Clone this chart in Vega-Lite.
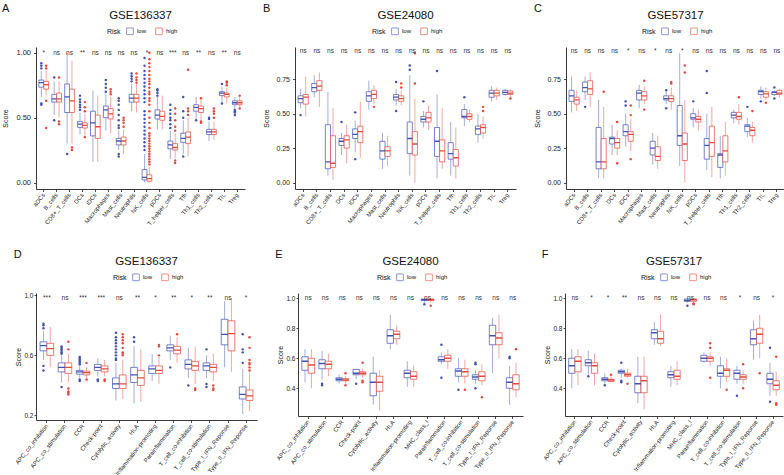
{
"$schema":"https://vega.github.io/schema/vega-lite/v6.json",
"padding":{"left":1,"top":2,"right":1,"bottom":0},
"datasets":{
"Abox":[
{"c":"aDCs","r":"low","lo":0.66,"q1":0.735,"md":0.77,"q3":0.79,"hi":0.86},
{"c":"aDCs","r":"high","lo":0.67,"q1":0.72,"md":0.755,"q3":0.78,"hi":0.86},
{"c":"B_cells","r":"low","lo":0.52,"q1":0.62,"md":0.645,"q3":0.68,"hi":0.78},
{"c":"B_cells","r":"high","lo":0.5,"q1":0.62,"md":0.645,"q3":0.69,"hi":0.78},
{"c":"CD8+_T_cells","r":"low","lo":0.3,"q1":0.54,"md":0.66,"q3":0.76,"hi":1.0},
{"c":"CD8+_T_cells","r":"high","lo":0.3,"q1":0.54,"md":0.63,"q3":0.72,"hi":0.94},
{"c":"DCs","r":"low","lo":0.37,"q1":0.425,"md":0.45,"q3":0.47,"hi":0.54},
{"c":"DCs","r":"high","lo":0.36,"q1":0.42,"md":0.44,"q3":0.46,"hi":0.53},
{"c":"iDCs","r":"low","lo":0.16,"q1":0.36,"md":0.46,"q3":0.55,"hi":0.71},
{"c":"iDCs","r":"high","lo":0.16,"q1":0.34,"md":0.43,"q3":0.52,"hi":0.67},
{"c":"Macrophages","r":"low","lo":0.4,"q1":0.5,"md":0.56,"q3":0.59,"hi":0.68},
{"c":"Macrophages","r":"high","lo":0.38,"q1":0.49,"md":0.53,"q3":0.57,"hi":0.66},
{"c":"Mast_cells","r":"low","lo":0.25,"q1":0.29,"md":0.32,"q3":0.34,"hi":0.4},
{"c":"Mast_cells","r":"high","lo":0.22,"q1":0.29,"md":0.32,"q3":0.35,"hi":0.41},
{"c":"Neutrophils","r":"low","lo":0.55,"q1":0.62,"md":0.65,"q3":0.68,"hi":0.76},
{"c":"Neutrophils","r":"high","lo":0.54,"q1":0.62,"md":0.65,"q3":0.68,"hi":0.76},
{"c":"NK_cells","r":"low","lo":0.0,"q1":0.02,"md":0.04,"q3":0.1,"hi":0.22},
{"c":"NK_cells","r":"high","lo":0.0,"q1":0.01,"md":0.03,"q3":0.06,"hi":0.12},
{"c":"pDCs","r":"low","lo":0.41,"q1":0.49,"md":0.52,"q3":0.56,"hi":0.66},
{"c":"pDCs","r":"high","lo":0.41,"q1":0.48,"md":0.51,"q3":0.55,"hi":0.67},
{"c":"T_helper_cells","r":"low","lo":0.18,"q1":0.26,"md":0.29,"q3":0.32,"hi":0.4},
{"c":"T_helper_cells","r":"high","lo":0.19,"q1":0.25,"md":0.27,"q3":0.3,"hi":0.38},
{"c":"Tfh","r":"low","lo":0.22,"q1":0.31,"md":0.34,"q3":0.38,"hi":0.48},
{"c":"Tfh","r":"high","lo":0.2,"q1":0.3,"md":0.35,"q3":0.39,"hi":0.5},
{"c":"Th1_cells","r":"low","lo":0.49,"q1":0.55,"md":0.58,"q3":0.6,"hi":0.66},
{"c":"Th1_cells","r":"high","lo":0.48,"q1":0.54,"md":0.57,"q3":0.59,"hi":0.64},
{"c":"Th2_cells","r":"low","lo":0.32,"q1":0.37,"md":0.39,"q3":0.41,"hi":0.47},
{"c":"Th2_cells","r":"high","lo":0.33,"q1":0.37,"md":0.39,"q3":0.41,"hi":0.47},
{"c":"TIL","r":"low","lo":0.62,"q1":0.67,"md":0.69,"q3":0.7,"hi":0.74},
{"c":"TIL","r":"high","lo":0.61,"q1":0.66,"md":0.68,"q3":0.69,"hi":0.73},
{"c":"Treg","r":"low","lo":0.57,"q1":0.6,"md":0.615,"q3":0.63,"hi":0.66},
{"c":"Treg","r":"high","lo":0.58,"q1":0.6,"md":0.615,"q3":0.63,"hi":0.66}],
"Aout":[
{"c":"aDCs","r":"low","v":0.88},{"c":"aDCs","r":"low","v":0.9},{"c":"aDCs","r":"low","v":0.92},{"c":"aDCs","r":"low","v":0.61},{"c":"aDCs","r":"low","v":0.6},
{"c":"aDCs","r":"high","v":0.88},{"c":"aDCs","r":"high","v":0.9},{"c":"aDCs","r":"high","v":0.63},{"c":"aDCs","r":"high","v":0.42},
{"c":"B_cells","r":"low","v":0.81},{"c":"B_cells","r":"low","v":0.48},
{"c":"B_cells","r":"high","v":0.81},{"c":"B_cells","r":"high","v":0.47},{"c":"B_cells","r":"high","v":0.45},
{"c":"CD8+_T_cells","r":"low","v":0.22},{"c":"CD8+_T_cells","r":"high","v":0.25},{"c":"CD8+_T_cells","r":"high","v":0.27},
{"c":"DCs","r":"low","v":0.56},{"c":"DCs","r":"low","v":0.58},{"c":"DCs","r":"low","v":0.6},{"c":"DCs","r":"low","v":0.62},{"c":"DCs","r":"low","v":0.64},{"c":"DCs","r":"low","v":0.67},
{"c":"DCs","r":"high","v":0.55},{"c":"DCs","r":"high","v":0.58},{"c":"DCs","r":"high","v":0.62},{"c":"DCs","r":"high","v":0.35},
{"c":"Macrophages","r":"low","v":0.7},{"c":"Macrophages","r":"low","v":0.73},{"c":"Macrophages","r":"low","v":0.76},{"c":"Macrophages","r":"low","v":0.79},
{"c":"Macrophages","r":"high","v":0.68},{"c":"Macrophages","r":"high","v":0.7},{"c":"Macrophages","r":"high","v":0.72},
{"c":"Mast_cells","r":"low","v":0.42},{"c":"Mast_cells","r":"low","v":0.44},{"c":"Mast_cells","r":"low","v":0.48},{"c":"Mast_cells","r":"low","v":0.52},{"c":"Mast_cells","r":"low","v":0.56},{"c":"Mast_cells","r":"low","v":0.6},{"c":"Mast_cells","r":"low","v":0.63},{"c":"Mast_cells","r":"low","v":0.65},{"c":"Mast_cells","r":"low","v":0.22},{"c":"Mast_cells","r":"low","v":0.2},
{"c":"Mast_cells","r":"high","v":0.43},{"c":"Mast_cells","r":"high","v":0.46},{"c":"Mast_cells","r":"high","v":0.48},{"c":"Mast_cells","r":"high","v":0.5},
{"c":"Neutrophils","r":"low","v":0.78},{"c":"Neutrophils","r":"low","v":0.8},{"c":"Neutrophils","r":"low","v":0.82},{"c":"Neutrophils","r":"low","v":0.84},
{"c":"Neutrophils","r":"high","v":0.77},{"c":"Neutrophils","r":"high","v":0.79},{"c":"Neutrophils","r":"high","v":0.81},{"c":"Neutrophils","r":"high","v":0.84},
{"c":"NK_cells","r":"low","v":0.25},{"c":"NK_cells","r":"low","v":0.28},{"c":"NK_cells","r":"low","v":0.31},{"c":"NK_cells","r":"low","v":0.34},{"c":"NK_cells","r":"low","v":0.37},{"c":"NK_cells","r":"low","v":0.4},{"c":"NK_cells","r":"low","v":0.43},{"c":"NK_cells","r":"low","v":0.46},{"c":"NK_cells","r":"low","v":0.49},{"c":"NK_cells","r":"low","v":0.52},{"c":"NK_cells","r":"low","v":0.55},{"c":"NK_cells","r":"low","v":0.62},{"c":"NK_cells","r":"low","v":0.65},{"c":"NK_cells","r":"low","v":0.68},{"c":"NK_cells","r":"low","v":0.71},{"c":"NK_cells","r":"low","v":0.74},{"c":"NK_cells","r":"low","v":0.77},{"c":"NK_cells","r":"low","v":0.8},{"c":"NK_cells","r":"low","v":0.83},{"c":"NK_cells","r":"low","v":0.86},{"c":"NK_cells","r":"low","v":0.9},{"c":"NK_cells","r":"low","v":0.96},
{"c":"NK_cells","r":"high","v":0.14},{"c":"NK_cells","r":"high","v":0.16},{"c":"NK_cells","r":"high","v":0.18},{"c":"NK_cells","r":"high","v":0.2},{"c":"NK_cells","r":"high","v":0.22},{"c":"NK_cells","r":"high","v":0.24},{"c":"NK_cells","r":"high","v":0.26},{"c":"NK_cells","r":"high","v":0.28},{"c":"NK_cells","r":"high","v":0.3},{"c":"NK_cells","r":"high","v":0.32},{"c":"NK_cells","r":"high","v":0.34},{"c":"NK_cells","r":"high","v":0.36},{"c":"NK_cells","r":"high","v":0.38},{"c":"NK_cells","r":"high","v":0.42},{"c":"NK_cells","r":"high","v":0.46},{"c":"NK_cells","r":"high","v":0.5},{"c":"NK_cells","r":"high","v":0.55},{"c":"NK_cells","r":"high","v":0.6},{"c":"NK_cells","r":"high","v":0.63},{"c":"NK_cells","r":"high","v":0.65},{"c":"NK_cells","r":"high","v":0.68},{"c":"NK_cells","r":"high","v":0.7},{"c":"NK_cells","r":"high","v":0.73},{"c":"NK_cells","r":"high","v":0.76},{"c":"NK_cells","r":"high","v":0.78},{"c":"NK_cells","r":"high","v":0.8},{"c":"NK_cells","r":"high","v":0.83},{"c":"NK_cells","r":"high","v":0.86},{"c":"NK_cells","r":"high","v":0.89},{"c":"NK_cells","r":"high","v":0.92},{"c":"NK_cells","r":"high","v":0.95},{"c":"NK_cells","r":"high","v":1.0},
{"c":"pDCs","r":"low","v":0.67},{"c":"pDCs","r":"low","v":0.69},{"c":"pDCs","r":"low","v":0.71},{"c":"pDCs","r":"low","v":0.72},
{"c":"T_helper_cells","r":"low","v":0.42},{"c":"T_helper_cells","r":"low","v":0.45},{"c":"T_helper_cells","r":"low","v":0.48},{"c":"T_helper_cells","r":"low","v":0.5},{"c":"T_helper_cells","r":"low","v":0.53},{"c":"T_helper_cells","r":"low","v":0.56},{"c":"T_helper_cells","r":"low","v":0.6},
{"c":"T_helper_cells","r":"high","v":0.4},{"c":"T_helper_cells","r":"high","v":0.43},{"c":"T_helper_cells","r":"high","v":0.48},{"c":"T_helper_cells","r":"high","v":0.53},{"c":"T_helper_cells","r":"high","v":0.57},{"c":"T_helper_cells","r":"high","v":0.17},{"c":"T_helper_cells","r":"high","v":0.15},
{"c":"Tfh","r":"low","v":0.5},{"c":"Tfh","r":"low","v":0.55},{"c":"Tfh","r":"low","v":0.66},{"c":"Tfh","r":"low","v":0.2},
{"c":"Tfh","r":"high","v":0.52},{"c":"Tfh","r":"high","v":0.55},{"c":"Tfh","r":"high","v":0.57},{"c":"Tfh","r":"high","v":0.87},
{"c":"Th1_cells","r":"low","v":0.48},{"c":"Th1_cells","r":"high","v":0.65},{"c":"Th1_cells","r":"high","v":0.47},{"c":"Th1_cells","r":"high","v":0.46},
{"c":"Th2_cells","r":"low","v":0.49},{"c":"Th2_cells","r":"low","v":0.5},
{"c":"Th2_cells","r":"high","v":0.5},{"c":"Th2_cells","r":"high","v":0.53},{"c":"Th2_cells","r":"high","v":0.55},{"c":"Th2_cells","r":"high","v":0.57},
{"c":"TIL","r":"low","v":0.76},{"c":"TIL","r":"low","v":0.61},
{"c":"TIL","r":"high","v":0.75},{"c":"TIL","r":"high","v":0.77},{"c":"TIL","r":"high","v":0.78},
{"c":"Treg","r":"low","v":0.52},{"c":"Treg","r":"low","v":0.54},{"c":"Treg","r":"low","v":0.55},{"c":"Treg","r":"low","v":0.56},
{"c":"Treg","r":"high","v":0.57},{"c":"Treg","r":"high","v":0.67}],
"Asig":[{"c":"aDCs","s":"*"},{"c":"B_cells","s":"ns"},{"c":"CD8+_T_cells","s":"ns"},{"c":"DCs","s":"**"},{"c":"iDCs","s":"ns"},{"c":"Macrophages","s":"ns"},{"c":"Mast_cells","s":"ns"},{"c":"Neutrophils","s":"ns"},{"c":"NK_cells","s":"*"},{"c":"pDCs","s":"ns"},{"c":"T_helper_cells","s":"***"},{"c":"Tfh","s":"ns"},{"c":"Th1_cells","s":"**"},{"c":"Th2_cells","s":"ns"},{"c":"TIL","s":"**"},{"c":"Treg","s":"ns"}],
"Bbox":[
{"c":"aDCs","r":"low","lo":0.54,"q1":0.58,"md":0.61,"q3":0.63,"hi":0.68},
{"c":"aDCs","r":"high","lo":0.48,"q1":0.57,"md":0.62,"q3":0.64,"hi":0.77},
{"c":"B_cells","r":"low","lo":0.62,"q1":0.66,"md":0.69,"q3":0.72,"hi":0.78},
{"c":"B_cells","r":"high","lo":0.55,"q1":0.67,"md":0.7,"q3":0.74,"hi":0.8},
{"c":"CD8+_T_cells","r":"low","lo":0.05,"q1":0.1,"md":0.15,"q3":0.42,"hi":0.66},
{"c":"CD8+_T_cells","r":"high","lo":0.02,"q1":0.11,"md":0.14,"q3":0.34,"hi":0.54},
{"c":"DCs","r":"low","lo":0.2,"q1":0.27,"md":0.3,"q3":0.32,"hi":0.36},
{"c":"DCs","r":"high","lo":0.14,"q1":0.25,"md":0.31,"q3":0.34,"hi":0.42},
{"c":"iDCs","r":"low","lo":0.22,"q1":0.32,"md":0.35,"q3":0.39,"hi":0.45},
{"c":"iDCs","r":"high","lo":0.18,"q1":0.29,"md":0.37,"q3":0.41,"hi":0.59},
{"c":"Macrophages","r":"low","lo":0.53,"q1":0.59,"md":0.63,"q3":0.66,"hi":0.74},
{"c":"Macrophages","r":"high","lo":0.57,"q1":0.61,"md":0.64,"q3":0.67,"hi":0.71},
{"c":"Mast_cells","r":"low","lo":0.1,"q1":0.17,"md":0.23,"q3":0.3,"hi":0.36},
{"c":"Mast_cells","r":"high","lo":0.12,"q1":0.19,"md":0.23,"q3":0.26,"hi":0.34},
{"c":"Neutrophils","r":"low","lo":0.56,"q1":0.6,"md":0.62,"q3":0.64,"hi":0.68},
{"c":"Neutrophils","r":"high","lo":0.56,"q1":0.59,"md":0.61,"q3":0.63,"hi":0.67},
{"c":"NK_cells","r":"low","lo":0.05,"q1":0.21,"md":0.32,"q3":0.44,"hi":0.78},
{"c":"NK_cells","r":"high","lo":0.0,"q1":0.2,"md":0.28,"q3":0.37,"hi":0.61},
{"c":"pDCs","r":"low","lo":0.4,"q1":0.44,"md":0.46,"q3":0.48,"hi":0.52},
{"c":"pDCs","r":"high","lo":0.38,"q1":0.44,"md":0.47,"q3":0.51,"hi":0.56},
{"c":"T_helper_cells","r":"low","lo":0.03,"q1":0.19,"md":0.3,"q3":0.4,"hi":0.64},
{"c":"T_helper_cells","r":"high","lo":0.1,"q1":0.15,"md":0.23,"q3":0.31,"hi":0.54},
{"c":"Tfh","r":"low","lo":0.05,"q1":0.17,"md":0.21,"q3":0.29,"hi":0.44},
{"c":"Tfh","r":"high","lo":0.03,"q1":0.12,"md":0.18,"q3":0.24,"hi":0.4},
{"c":"Th1_cells","r":"low","lo":0.41,"q1":0.47,"md":0.48,"q3":0.53,"hi":0.57},
{"c":"Th1_cells","r":"high","lo":0.44,"q1":0.46,"md":0.48,"q3":0.5,"hi":0.53},
{"c":"Th2_cells","r":"low","lo":0.29,"q1":0.35,"md":0.39,"q3":0.41,"hi":0.5},
{"c":"Th2_cells","r":"high","lo":0.32,"q1":0.36,"md":0.4,"q3":0.42,"hi":0.48},
{"c":"TIL","r":"low","lo":0.59,"q1":0.62,"md":0.65,"q3":0.67,"hi":0.7},
{"c":"TIL","r":"high","lo":0.6,"q1":0.63,"md":0.65,"q3":0.67,"hi":0.69},
{"c":"Treg","r":"low","lo":0.63,"q1":0.64,"md":0.655,"q3":0.67,"hi":0.68},
{"c":"Treg","r":"high","lo":0.62,"q1":0.64,"md":0.65,"q3":0.665,"hi":0.68}],
"Bout":[
{"c":"aDCs","r":"low","v":0.49},{"c":"DCs","r":"low","v":0.44},{"c":"iDCs","r":"low","v":0.51},{"c":"iDCs","r":"low","v":0.17},{"c":"Macrophages","r":"high","v":0.55},
{"c":"Neutrophils","r":"low","v":0.73},{"c":"Neutrophils","r":"low","v":0.52},{"c":"Neutrophils","r":"high","v":0.69},{"c":"Neutrophils","r":"high","v":0.72},
{"c":"NK_cells","r":"low","v":0.82},{"c":"NK_cells","r":"low","v":0.85},{"c":"NK_cells","r":"high","v":0.72},{"c":"NK_cells","r":"high","v":0.94},
{"c":"pDCs","r":"low","v":0.59},{"c":"T_helper_cells","r":"low","v":0.81},{"c":"Th1_cells","r":"low","v":0.62},{"c":"Th2_cells","r":"high","v":0.52},{"c":"Th2_cells","r":"high","v":0.55},{"c":"Treg","r":"high","v":0.61}],
"Bsig":[{"c":"aDCs","s":"ns"},{"c":"B_cells","s":"ns"},{"c":"CD8+_T_cells","s":"ns"},{"c":"DCs","s":"ns"},{"c":"iDCs","s":"ns"},{"c":"Macrophages","s":"ns"},{"c":"Mast_cells","s":"ns"},{"c":"Neutrophils","s":"ns"},{"c":"NK_cells","s":"ns"},{"c":"pDCs","s":"ns"},{"c":"T_helper_cells","s":"ns"},{"c":"Tfh","s":"ns"},{"c":"Th1_cells","s":"ns"},{"c":"Th2_cells","s":"ns"},{"c":"TIL","s":"ns"},{"c":"Treg","s":"ns"}],
"Cbox":[
{"c":"aDCs","r":"low","lo":0.51,"q1":0.59,"md":0.63,"q3":0.67,"hi":0.77},
{"c":"aDCs","r":"high","lo":0.52,"q1":0.57,"md":0.6,"q3":0.62,"hi":0.67},
{"c":"B_cells","r":"low","lo":0.6,"q1":0.66,"md":0.69,"q3":0.73,"hi":0.77},
{"c":"B_cells","r":"high","lo":0.55,"q1":0.64,"md":0.68,"q3":0.74,"hi":0.8},
{"c":"CD8+_T_cells","r":"low","lo":0.03,"q1":0.1,"md":0.15,"q3":0.4,"hi":0.6},
{"c":"CD8+_T_cells","r":"high","lo":0.03,"q1":0.1,"md":0.15,"q3":0.32,"hi":0.55},
{"c":"DCs","r":"low","lo":0.2,"q1":0.28,"md":0.32,"q3":0.33,"hi":0.42},
{"c":"DCs","r":"high","lo":0.2,"q1":0.25,"md":0.29,"q3":0.32,"hi":0.38},
{"c":"iDCs","r":"low","lo":0.26,"q1":0.34,"md":0.37,"q3":0.42,"hi":0.5},
{"c":"iDCs","r":"high","lo":0.23,"q1":0.3,"md":0.35,"q3":0.37,"hi":0.46},
{"c":"Macrophages","r":"low","lo":0.54,"q1":0.6,"md":0.65,"q3":0.67,"hi":0.71},
{"c":"Macrophages","r":"high","lo":0.57,"q1":0.6,"md":0.63,"q3":0.66,"hi":0.7},
{"c":"Mast_cells","r":"low","lo":0.13,"q1":0.2,"md":0.25,"q3":0.3,"hi":0.36},
{"c":"Mast_cells","r":"high","lo":0.1,"q1":0.16,"md":0.19,"q3":0.26,"hi":0.34},
{"c":"Neutrophils","r":"low","lo":0.57,"q1":0.6,"md":0.61,"q3":0.63,"hi":0.66},
{"c":"Neutrophils","r":"high","lo":0.53,"q1":0.59,"md":0.61,"q3":0.63,"hi":0.69},
{"c":"NK_cells","r":"low","lo":0.12,"q1":0.27,"md":0.34,"q3":0.56,"hi":0.94},
{"c":"NK_cells","r":"high","lo":0.0,"q1":0.16,"md":0.28,"q3":0.36,"hi":0.6},
{"c":"pDCs","r":"low","lo":0.4,"q1":0.46,"md":0.47,"q3":0.5,"hi":0.54},
{"c":"pDCs","r":"high","lo":0.38,"q1":0.44,"md":0.46,"q3":0.48,"hi":0.53},
{"c":"T_helper_cells","r":"low","lo":0.09,"q1":0.17,"md":0.27,"q3":0.32,"hi":0.5},
{"c":"T_helper_cells","r":"high","lo":0.04,"q1":0.19,"md":0.29,"q3":0.41,"hi":0.55},
{"c":"Tfh","r":"low","lo":0.03,"q1":0.11,"md":0.2,"q3":0.21,"hi":0.34},
{"c":"Tfh","r":"high","lo":0.05,"q1":0.15,"md":0.23,"q3":0.34,"hi":0.44},
{"c":"Th1_cells","r":"low","lo":0.43,"q1":0.47,"md":0.49,"q3":0.51,"hi":0.53},
{"c":"Th1_cells","r":"high","lo":0.42,"q1":0.46,"md":0.48,"q3":0.51,"hi":0.57},
{"c":"Th2_cells","r":"low","lo":0.33,"q1":0.37,"md":0.41,"q3":0.42,"hi":0.47},
{"c":"Th2_cells","r":"high","lo":0.29,"q1":0.34,"md":0.38,"q3":0.4,"hi":0.44},
{"c":"TIL","r":"low","lo":0.61,"q1":0.64,"md":0.66,"q3":0.67,"hi":0.7},
{"c":"TIL","r":"high","lo":0.6,"q1":0.62,"md":0.645,"q3":0.66,"hi":0.69},
{"c":"Treg","r":"low","lo":0.63,"q1":0.64,"md":0.655,"q3":0.66,"hi":0.67},
{"c":"Treg","r":"high","lo":0.62,"q1":0.64,"md":0.65,"q3":0.67,"hi":0.68}],
"Cout":[
{"c":"B_cells","r":"low","v":0.55},{"c":"CD8+_T_cells","r":"high","v":0.66},{"c":"DCs","r":"high","v":0.44},{"c":"DCs","r":"high","v":0.14},
{"c":"iDCs","r":"low","v":0.56},{"c":"iDCs","r":"low","v":0.59},{"c":"iDCs","r":"high","v":0.49},{"c":"iDCs","r":"high","v":0.56},{"c":"iDCs","r":"high","v":0.17},
{"c":"Macrophages","r":"high","v":0.74},{"c":"Macrophages","r":"high","v":0.53},{"c":"Neutrophils","r":"low","v":0.67},{"c":"Neutrophils","r":"low","v":0.54},{"c":"Neutrophils","r":"high","v":0.72},{"c":"Neutrophils","r":"high","v":0.73},
{"c":"NK_cells","r":"high","v":0.8},{"c":"NK_cells","r":"high","v":0.85},{"c":"pDCs","r":"low","v":0.59},{"c":"T_helper_cells","r":"low","v":0.65},{"c":"T_helper_cells","r":"low","v":0.81},
{"c":"Th1_cells","r":"high","v":0.62},{"c":"Th2_cells","r":"low","v":0.55},{"c":"Th2_cells","r":"high","v":0.52},{"c":"TIL","r":"low","v":0.59},{"c":"TIL","r":"high","v":0.58},{"c":"Treg","r":"low","v":0.69},{"c":"Treg","r":"low","v":0.61}],
"Csig":[{"c":"aDCs","s":"ns"},{"c":"B_cells","s":"ns"},{"c":"CD8+_T_cells","s":"ns"},{"c":"DCs","s":"ns"},{"c":"iDCs","s":"*"},{"c":"Macrophages","s":"ns"},{"c":"Mast_cells","s":"*"},{"c":"Neutrophils","s":"ns"},{"c":"NK_cells","s":"*"},{"c":"pDCs","s":"ns"},{"c":"T_helper_cells","s":"ns"},{"c":"Tfh","s":"ns"},{"c":"Th1_cells","s":"ns"},{"c":"Th2_cells","s":"ns"},{"c":"TIL","s":"ns"},{"c":"Treg","s":"ns"}],
"Dbox":[
{"c":"APC_co_inhibition","r":"low","lo":0.57,"q1":0.63,"md":0.665,"q3":0.69,"hi":0.76},
{"c":"APC_co_inhibition","r":"high","lo":0.52,"q1":0.6,"md":0.645,"q3":0.68,"hi":0.79},
{"c":"APC_co_stimulation","r":"low","lo":0.42,"q1":0.49,"md":0.52,"q3":0.55,"hi":0.6},
{"c":"APC_co_stimulation","r":"high","lo":0.42,"q1":0.48,"md":0.52,"q3":0.55,"hi":0.61},
{"c":"CCR","r":"low","lo":0.45,"q1":0.475,"md":0.49,"q3":0.5,"hi":0.53},
{"c":"CCR","r":"high","lo":0.45,"q1":0.47,"md":0.485,"q3":0.495,"hi":0.52},
{"c":"Check-point","r":"low","lo":0.46,"q1":0.5,"md":0.52,"q3":0.54,"hi":0.58},
{"c":"Check-point","r":"high","lo":0.46,"q1":0.49,"md":0.51,"q3":0.53,"hi":0.57},
{"c":"Cytolytic_activity","r":"low","lo":0.3,"q1":0.38,"md":0.41,"q3":0.45,"hi":0.55},
{"c":"Cytolytic_activity","r":"high","lo":0.31,"q1":0.38,"md":0.41,"q3":0.47,"hi":0.57},
{"c":"HLA","r":"low","lo":0.28,"q1":0.42,"md":0.47,"q3":0.52,"hi":0.66},
{"c":"HLA","r":"high","lo":0.29,"q1":0.4,"md":0.45,"q3":0.5,"hi":0.64},
{"c":"Inflammation-promoting","r":"low","lo":0.43,"q1":0.48,"md":0.51,"q3":0.53,"hi":0.61},
{"c":"Inflammation-promoting","r":"high","lo":0.41,"q1":0.48,"md":0.5,"q3":0.53,"hi":0.59},
{"c":"Parainflammation","r":"low","lo":0.57,"q1":0.63,"md":0.65,"q3":0.67,"hi":0.73},
{"c":"Parainflammation","r":"high","lo":0.55,"q1":0.61,"md":0.635,"q3":0.66,"hi":0.72},
{"c":"T_cell_co-inhibition","r":"low","lo":0.45,"q1":0.51,"md":0.54,"q3":0.57,"hi":0.65},
{"c":"T_cell_co-inhibition","r":"high","lo":0.41,"q1":0.5,"md":0.53,"q3":0.56,"hi":0.66},
{"c":"T_cell_co-stimulation","r":"low","lo":0.45,"q1":0.5,"md":0.53,"q3":0.55,"hi":0.6},
{"c":"T_cell_co-stimulation","r":"high","lo":0.43,"q1":0.49,"md":0.52,"q3":0.54,"hi":0.61},
{"c":"Type_I_IFN_Reponse","r":"low","lo":0.52,"q1":0.67,"md":0.74,"q3":0.84,"hi":0.96},
{"c":"Type_I_IFN_Reponse","r":"high","lo":0.49,"q1":0.63,"md":0.745,"q3":0.83,"hi":0.98},
{"c":"Type_II_IFN_Reponse","r":"low","lo":0.21,"q1":0.31,"md":0.34,"q3":0.39,"hi":0.51},
{"c":"Type_II_IFN_Reponse","r":"high","lo":0.23,"q1":0.3,"md":0.33,"q3":0.37,"hi":0.48}],
"Dout":[
{"c":"APC_co_inhibition","r":"low","v":0.78},{"c":"APC_co_inhibition","r":"low","v":0.8},{"c":"APC_co_inhibition","r":"low","v":0.81},{"c":"APC_co_inhibition","r":"low","v":0.53},{"c":"APC_co_inhibition","r":"low","v":0.5},
{"c":"APC_co_stimulation","r":"low","v":0.61},{"c":"APC_co_stimulation","r":"low","v":0.62},{"c":"APC_co_stimulation","r":"low","v":0.63},{"c":"APC_co_stimulation","r":"low","v":0.64},{"c":"APC_co_stimulation","r":"low","v":0.65},{"c":"APC_co_stimulation","r":"low","v":0.66},{"c":"APC_co_stimulation","r":"low","v":0.39},
{"c":"APC_co_stimulation","r":"high","v":0.64},{"c":"APC_co_stimulation","r":"high","v":0.69},{"c":"APC_co_stimulation","r":"high","v":0.38},{"c":"APC_co_stimulation","r":"high","v":0.36},{"c":"APC_co_stimulation","r":"high","v":0.35},{"c":"APC_co_stimulation","r":"high","v":0.34},
{"c":"CCR","r":"low","v":0.54},{"c":"CCR","r":"low","v":0.55},{"c":"CCR","r":"low","v":0.56},{"c":"CCR","r":"low","v":0.57},{"c":"CCR","r":"low","v":0.58},{"c":"CCR","r":"low","v":0.59},{"c":"CCR","r":"low","v":0.44},{"c":"CCR","r":"low","v":0.43},
{"c":"CCR","r":"high","v":0.55},{"c":"CCR","r":"high","v":0.44},
{"c":"Check-point","r":"low","v":0.44},{"c":"Check-point","r":"low","v":0.43},{"c":"Check-point","r":"high","v":0.44},{"c":"Check-point","r":"high","v":0.43},
{"c":"Cytolytic_activity","r":"low","v":0.57},{"c":"Cytolytic_activity","r":"low","v":0.58},{"c":"Cytolytic_activity","r":"low","v":0.6},{"c":"Cytolytic_activity","r":"low","v":0.62},{"c":"Cytolytic_activity","r":"low","v":0.64},{"c":"Cytolytic_activity","r":"low","v":0.66},{"c":"Cytolytic_activity","r":"low","v":0.68},{"c":"Cytolytic_activity","r":"low","v":0.7},{"c":"Cytolytic_activity","r":"low","v":0.72},{"c":"Cytolytic_activity","r":"low","v":0.75},
{"c":"Cytolytic_activity","r":"high","v":0.6},{"c":"Cytolytic_activity","r":"high","v":0.61},{"c":"Cytolytic_activity","r":"high","v":0.62},{"c":"Cytolytic_activity","r":"high","v":0.65},{"c":"Cytolytic_activity","r":"high","v":0.68},{"c":"Cytolytic_activity","r":"high","v":0.7},{"c":"Cytolytic_activity","r":"high","v":0.72},{"c":"Cytolytic_activity","r":"high","v":0.74},
{"c":"HLA","r":"low","v":0.69},{"c":"HLA","r":"low","v":0.72},
{"c":"Inflammation-promoting","r":"high","v":0.6},{"c":"Inflammation-promoting","r":"high","v":0.66},{"c":"Inflammation-promoting","r":"high","v":0.67},
{"c":"Parainflammation","r":"low","v":0.52},{"c":"Parainflammation","r":"high","v":0.74},
{"c":"T_cell_co-inhibition","r":"low","v":0.4},{"c":"T_cell_co-inhibition","r":"high","v":0.38},{"c":"T_cell_co-inhibition","r":"high","v":0.37},
{"c":"T_cell_co-stimulation","r":"low","v":0.64},{"c":"T_cell_co-stimulation","r":"low","v":0.41},{"c":"T_cell_co-stimulation","r":"low","v":0.39},{"c":"T_cell_co-stimulation","r":"high","v":0.4},{"c":"T_cell_co-stimulation","r":"high","v":0.38},{"c":"T_cell_co-stimulation","r":"high","v":0.37},
{"c":"Type_II_IFN_Reponse","r":"low","v":0.55},{"c":"Type_II_IFN_Reponse","r":"low","v":0.62},{"c":"Type_II_IFN_Reponse","r":"low","v":0.64},{"c":"Type_II_IFN_Reponse","r":"low","v":0.74},
{"c":"Type_II_IFN_Reponse","r":"high","v":0.5},{"c":"Type_II_IFN_Reponse","r":"high","v":0.52},{"c":"Type_II_IFN_Reponse","r":"high","v":0.54},{"c":"Type_II_IFN_Reponse","r":"high","v":0.55},{"c":"Type_II_IFN_Reponse","r":"high","v":0.57},{"c":"Type_II_IFN_Reponse","r":"high","v":0.65},{"c":"Type_II_IFN_Reponse","r":"high","v":0.72}],
"Dsig":[{"c":"APC_co_inhibition","s":"***"},{"c":"APC_co_stimulation","s":"ns"},{"c":"CCR","s":"***"},{"c":"Check-point","s":"***"},{"c":"Cytolytic_activity","s":"ns"},{"c":"HLA","s":"**"},{"c":"Inflammation-promoting","s":"*"},{"c":"Parainflammation","s":"**"},{"c":"T_cell_co-inhibition","s":"*"},{"c":"T_cell_co-stimulation","s":"**"},{"c":"Type_I_IFN_Reponse","s":"ns"},{"c":"Type_II_IFN_Reponse","s":"*"}],
"Ebox":[
{"c":"APC_co_inhibition","r":"low","lo":0.44,"q1":0.52,"md":0.58,"q3":0.61,"hi":0.66},
{"c":"APC_co_inhibition","r":"high","lo":0.4,"q1":0.5,"md":0.555,"q3":0.6,"hi":0.66},
{"c":"APC_co_stimulation","r":"low","lo":0.46,"q1":0.53,"md":0.565,"q3":0.59,"hi":0.65},
{"c":"APC_co_stimulation","r":"high","lo":0.48,"q1":0.53,"md":0.56,"q3":0.58,"hi":0.63},
{"c":"CCR","r":"low","lo":0.43,"q1":0.45,"md":0.46,"q3":0.47,"hi":0.49},
{"c":"CCR","r":"high","lo":0.43,"q1":0.45,"md":0.455,"q3":0.465,"hi":0.48},
{"c":"Check-point","r":"low","lo":0.46,"q1":0.49,"md":0.5,"q3":0.525,"hi":0.53},
{"c":"Check-point","r":"high","lo":0.47,"q1":0.49,"md":0.5,"q3":0.51,"hi":0.53},
{"c":"Cytolytic_activity","r":"low","lo":0.29,"q1":0.35,"md":0.44,"q3":0.5,"hi":0.61},
{"c":"Cytolytic_activity","r":"high","lo":0.25,"q1":0.38,"md":0.44,"q3":0.48,"hi":0.52},
{"c":"HLA","r":"low","lo":0.66,"q1":0.7,"md":0.75,"q3":0.79,"hi":0.89},
{"c":"HLA","r":"high","lo":0.69,"q1":0.73,"md":0.76,"q3":0.78,"hi":0.82},
{"c":"Inflammation-promoting","r":"low","lo":0.41,"q1":0.47,"md":0.5,"q3":0.52,"hi":0.58},
{"c":"Inflammation-promoting","r":"high","lo":0.41,"q1":0.46,"md":0.48,"q3":0.51,"hi":0.55},
{"c":"MHC_class_I","r":"low","lo":0.97,"q1":0.985,"md":0.99,"q3":0.995,"hi":1.0},
{"c":"MHC_class_I","r":"high","lo":0.97,"q1":0.985,"md":0.99,"q3":0.995,"hi":1.0},
{"c":"Parainflammation","r":"low","lo":0.56,"q1":0.58,"md":0.59,"q3":0.61,"hi":0.64},
{"c":"Parainflammation","r":"high","lo":0.53,"q1":0.58,"md":0.6,"q3":0.62,"hi":0.66},
{"c":"T_cell_co-inhibition","r":"low","lo":0.44,"q1":0.48,"md":0.515,"q3":0.53,"hi":0.6},
{"c":"T_cell_co-inhibition","r":"high","lo":0.43,"q1":0.48,"md":0.51,"q3":0.53,"hi":0.59},
{"c":"T_cell_co-stimulation","r":"low","lo":0.43,"q1":0.46,"md":0.475,"q3":0.49,"hi":0.52},
{"c":"T_cell_co-stimulation","r":"high","lo":0.42,"q1":0.45,"md":0.48,"q3":0.51,"hi":0.56},
{"c":"Type_I_IFN_Reponse","r":"low","lo":0.5,"q1":0.69,"md":0.75,"q3":0.82,"hi":0.87},
{"c":"Type_I_IFN_Reponse","r":"high","lo":0.6,"q1":0.69,"md":0.735,"q3":0.77,"hi":0.89},
{"c":"Type_II_IFN_Reponse","r":"low","lo":0.29,"q1":0.4,"md":0.44,"q3":0.47,"hi":0.55},
{"c":"Type_II_IFN_Reponse","r":"high","lo":0.34,"q1":0.39,"md":0.43,"q3":0.49,"hi":0.57}],
"Eout":[
{"c":"APC_co_stimulation","r":"low","v":0.43},{"c":"APC_co_stimulation","r":"low","v":0.42},{"c":"CCR","r":"high","v":0.5},{"c":"CCR","r":"high","v":0.42},
{"c":"Check-point","r":"low","v":0.43},{"c":"Check-point","r":"high","v":0.57},{"c":"Check-point","r":"high","v":0.45},{"c":"Check-point","r":"high","v":0.44},
{"c":"MHC_class_I","r":"low","v":0.96},{"c":"MHC_class_I","r":"high","v":0.95},{"c":"Parainflammation","r":"low","v":0.69},{"c":"Parainflammation","r":"low","v":0.47},
{"c":"T_cell_co-inhibition","r":"low","v":0.39},{"c":"T_cell_co-inhibition","r":"high","v":0.39},{"c":"T_cell_co-stimulation","r":"low","v":0.57},{"c":"T_cell_co-stimulation","r":"low","v":0.56},{"c":"T_cell_co-stimulation","r":"low","v":0.4},{"c":"T_cell_co-stimulation","r":"high","v":0.34},
{"c":"Type_II_IFN_Reponse","r":"low","v":0.6},{"c":"Type_II_IFN_Reponse","r":"low","v":0.61},{"c":"Type_II_IFN_Reponse","r":"high","v":0.66}],
"Esig":[{"c":"APC_co_inhibition","s":"ns"},{"c":"APC_co_stimulation","s":"ns"},{"c":"CCR","s":"ns"},{"c":"Check-point","s":"ns"},{"c":"Cytolytic_activity","s":"ns"},{"c":"HLA","s":"ns"},{"c":"Inflammation-promoting","s":"ns"},{"c":"MHC_class_I","s":"ns"},{"c":"Parainflammation","s":"ns"},{"c":"T_cell_co-inhibition","s":"ns"},{"c":"T_cell_co-stimulation","s":"ns"},{"c":"Type_I_IFN_Reponse","s":"ns"},{"c":"Type_II_IFN_Reponse","s":"ns"}],
"Fbox":[
{"c":"APC_co_inhibition","r":"low","lo":0.4,"q1":0.5,"md":0.55,"q3":0.6,"hi":0.66},
{"c":"APC_co_inhibition","r":"high","lo":0.42,"q1":0.51,"md":0.58,"q3":0.61,"hi":0.66},
{"c":"APC_co_stimulation","r":"low","lo":0.49,"q1":0.55,"md":0.57,"q3":0.59,"hi":0.65},
{"c":"APC_co_stimulation","r":"high","lo":0.42,"q1":0.5,"md":0.55,"q3":0.57,"hi":0.63},
{"c":"CCR","r":"low","lo":0.43,"q1":0.45,"md":0.46,"q3":0.47,"hi":0.5},
{"c":"CCR","r":"high","lo":0.44,"q1":0.445,"md":0.455,"q3":0.46,"hi":0.48},
{"c":"Check-point","r":"low","lo":0.47,"q1":0.5,"md":0.51,"q3":0.52,"hi":0.53},
{"c":"Check-point","r":"high","lo":0.47,"q1":0.48,"md":0.49,"q3":0.5,"hi":0.53},
{"c":"Cytolytic_activity","r":"low","lo":0.3,"q1":0.37,"md":0.43,"q3":0.48,"hi":0.61},
{"c":"Cytolytic_activity","r":"high","lo":0.26,"q1":0.37,"md":0.45,"q3":0.48,"hi":0.61},
{"c":"HLA","r":"low","lo":0.69,"q1":0.73,"md":0.77,"q3":0.79,"hi":0.84},
{"c":"HLA","r":"high","lo":0.68,"q1":0.7,"md":0.73,"q3":0.78,"hi":0.89},
{"c":"Inflammation-promoting","r":"low","lo":0.41,"q1":0.47,"md":0.49,"q3":0.51,"hi":0.55},
{"c":"Inflammation-promoting","r":"high","lo":0.42,"q1":0.46,"md":0.48,"q3":0.52,"hi":0.58},
{"c":"MHC_class_I","r":"low","lo":0.97,"q1":0.98,"md":0.985,"q3":0.995,"hi":1.0},
{"c":"MHC_class_I","r":"high","lo":0.97,"q1":0.98,"md":0.99,"q3":0.995,"hi":1.0},
{"c":"Parainflammation","r":"low","lo":0.57,"q1":0.58,"md":0.6,"q3":0.62,"hi":0.64},
{"c":"Parainflammation","r":"high","lo":0.55,"q1":0.58,"md":0.6,"q3":0.61,"hi":0.64},
{"c":"T_cell_co-inhibition","r":"low","lo":0.4,"q1":0.48,"md":0.5,"q3":0.55,"hi":0.61},
{"c":"T_cell_co-inhibition","r":"high","lo":0.44,"q1":0.48,"md":0.52,"q3":0.53,"hi":0.6},
{"c":"T_cell_co-stimulation","r":"low","lo":0.43,"q1":0.46,"md":0.5,"q3":0.52,"hi":0.55},
{"c":"T_cell_co-stimulation","r":"high","lo":0.43,"q1":0.46,"md":0.475,"q3":0.49,"hi":0.52},
{"c":"Type_I_IFN_Reponse","r":"low","lo":0.59,"q1":0.69,"md":0.73,"q3":0.79,"hi":0.85},
{"c":"Type_I_IFN_Reponse","r":"high","lo":0.6,"q1":0.7,"md":0.76,"q3":0.8,"hi":0.89},
{"c":"Type_II_IFN_Reponse","r":"low","lo":0.35,"q1":0.43,"md":0.46,"q3":0.5,"hi":0.57},
{"c":"Type_II_IFN_Reponse","r":"high","lo":0.35,"q1":0.39,"md":0.42,"q3":0.45,"hi":0.51}],
"Fout":[
{"c":"APC_co_stimulation","r":"low","v":0.48},{"c":"CCR","r":"low","v":0.42},{"c":"CCR","r":"high","v":0.49},
{"c":"Check-point","r":"low","v":0.57},{"c":"Check-point","r":"low","v":0.45},{"c":"Check-point","r":"low","v":0.44},{"c":"Check-point","r":"high","v":0.43},
{"c":"MHC_class_I","r":"low","v":0.95},{"c":"MHC_class_I","r":"high","v":0.96},{"c":"MHC_class_I","r":"high","v":0.965},
{"c":"Parainflammation","r":"high","v":0.67},{"c":"Parainflammation","r":"high","v":0.7},{"c":"Parainflammation","r":"high","v":0.47},
{"c":"T_cell_co-inhibition","r":"high","v":0.39},{"c":"T_cell_co-stimulation","r":"low","v":0.35},{"c":"T_cell_co-stimulation","r":"high","v":0.56},{"c":"T_cell_co-stimulation","r":"high","v":0.4},
{"c":"Type_I_IFN_Reponse","r":"high","v":0.5},{"c":"Type_II_IFN_Reponse","r":"low","v":0.67},{"c":"Type_II_IFN_Reponse","r":"low","v":0.31},{"c":"Type_II_IFN_Reponse","r":"high","v":0.61},{"c":"Type_II_IFN_Reponse","r":"high","v":0.3},{"c":"Type_II_IFN_Reponse","r":"high","v":0.29}],
"Fsig":[{"c":"APC_co_inhibition","s":"ns"},{"c":"APC_co_stimulation","s":"*"},{"c":"CCR","s":"*"},{"c":"Check-point","s":"**"},{"c":"Cytolytic_activity","s":"ns"},{"c":"HLA","s":"ns"},{"c":"Inflammation-promoting","s":"ns"},{"c":"MHC_class_I","s":"ns"},{"c":"Parainflammation","s":"ns"},{"c":"T_cell_co-inhibition","s":"ns"},{"c":"T_cell_co-stimulation","s":"*"},{"c":"Type_I_IFN_Reponse","s":"ns"},{"c":"Type_II_IFN_Reponse","s":"*"}]
},
"resolve":{"scale":{"stroke":"independent","color":"independent","xOffset":"independent"},"legend":{"stroke":"independent","color":"independent"}},
"spacing":21,
"vconcat":[
{"spacing":17,"resolve":{"scale":{"stroke":"independent","color":"independent","xOffset":"independent"},"legend":{"stroke":"independent","color":"independent"}},
"hconcat":[
{"title":{"text":"A","anchor":"start","fontSize":11,"dy":10},"resolve":{"scale":{"stroke":"independent","color":"independent","xOffset":"independent"},"legend":{"stroke":"independent","color":"independent"}},
"vconcat":[{"width":209,"height":142,"title":{"text":"GSE136337"},
"encoding":{"x":{"field":"c","type":"nominal","scale":{"domain":["aDCs","B_cells","CD8+_T_cells","DCs","iDCs","Macrophages","Mast_cells","Neutrophils","NK_cells","pDCs","T_helper_cells","Tfh","Th1_cells","Th2_cells","TIL","Treg"],"paddingInner":0.25,"paddingOuter":0.225},"axis":{"title":null,"labelAngle":-52}}},
"layer":[
{"data":{"name":"Abox"},"mark":{"type":"rule","strokeWidth":0.8,"opacity":0.6},"encoding":{"xOffset":{"field":"r","type":"nominal","scale":{"domain":["low","high"],"paddingInner":0,"paddingOuter":0}},"y":{"field":"lo","type":"quantitative","title":"Score","scale":{"domain":[-0.05,1.045],"nice":false,"zero":false},"axis":{"values":[0,0.25,0.5,0.75,1],"format":".2f","labelFontSize":7.5,"titlePadding":7}},"y2":{"field":"hi"},"stroke":{"field":"r","type":"nominal","title":"Risk","scale":{"domain":["low","high"],"range":["#4052B5","#E5483B"]},"legend":{"symbolType":"square","orient":"none","legendX":71,"legendY":-20}}}},
{"data":{"name":"Abox"},"mark":{"type":"bar","fill":"white","strokeWidth":0.9,"strokeOpacity":0.8},"encoding":{"xOffset":{"field":"r","type":"nominal","scale":{"domain":["low","high"],"paddingInner":0,"paddingOuter":0}},"y":{"field":"q1","type":"quantitative","title":"Score"},"y2":{"field":"q3"},"stroke":{"field":"r","type":"nominal","title":"Risk","scale":{"domain":["low","high"],"range":["#4052B5","#E5483B"]},"legend":{"symbolType":"square","orient":"none","legendX":71,"legendY":-20}}}},
{"data":{"name":"Abox"},"mark":{"type":"bar","fill":"transparent","strokeWidth":1.3},"encoding":{"xOffset":{"field":"r","type":"nominal","scale":{"domain":["low","high"],"paddingInner":0,"paddingOuter":0}},"y":{"field":"md","type":"quantitative","title":"Score"},"y2":{"field":"md"},"stroke":{"field":"r","type":"nominal","title":"Risk","scale":{"domain":["low","high"],"range":["#4052B5","#E5483B"]},"legend":{"symbolType":"square","orient":"none","legendX":71,"legendY":-20}}}},
{"data":{"name":"Aout"},"mark":{"type":"point","filled":true,"size":6,"opacity":1},"encoding":{"xOffset":{"field":"r","type":"nominal","scale":{"domain":["low","high"],"paddingInner":0,"paddingOuter":0}},"y":{"field":"v","type":"quantitative","title":"Score"},"fill":{"field":"r","type":"nominal","scale":{"domain":["low","high"],"range":["#4052B5","#E5483B"]},"legend":null}}},
{"data":{"name":"Asig"},"mark":{"type":"text","fontSize":6.5,"baseline":"middle","color":"#333333"},"encoding":{"y":{"datum":1.0,"type":"quantitative","title":"Score"},"text":{"field":"s"}}}
]}]},
{"title":{"text":"B","anchor":"start","fontSize":11,"dy":10},"resolve":{"scale":{"stroke":"independent","color":"independent","xOffset":"independent"},"legend":{"stroke":"independent","color":"independent"}},
"vconcat":[{"width":221,"height":142,"title":{"text":"GSE24080"},
"encoding":{"x":{"field":"c","type":"nominal","scale":{"domain":["aDCs","B_cells","CD8+_T_cells","DCs","iDCs","Macrophages","Mast_cells","Neutrophils","NK_cells","pDCs","T_helper_cells","Tfh","Th1_cells","Th2_cells","TIL","Treg"],"paddingInner":0.25,"paddingOuter":0.225},"axis":{"title":null,"labelAngle":-52}}},
"layer":[
{"data":{"name":"Bbox"},"mark":{"type":"rule","strokeWidth":0.8,"opacity":0.6},"encoding":{"xOffset":{"field":"r","type":"nominal","scale":{"domain":["low","high"],"paddingInner":0,"paddingOuter":0}},"y":{"field":"lo","type":"quantitative","title":"Score","scale":{"domain":[-0.047,0.985],"nice":false,"zero":false},"axis":{"values":[0,0.25,0.5,0.75],"format":".2f"}},"y2":{"field":"hi"},"stroke":{"field":"r","type":"nominal","title":"Risk","scale":{"domain":["low","high"],"range":["#4052B5","#E5483B"]},"legend":{"symbolType":"square","orient":"none","legendX":77,"legendY":-20}}}},
{"data":{"name":"Bbox"},"mark":{"type":"bar","fill":"white","strokeWidth":0.9,"strokeOpacity":0.8},"encoding":{"xOffset":{"field":"r","type":"nominal","scale":{"domain":["low","high"],"paddingInner":0,"paddingOuter":0}},"y":{"field":"q1","type":"quantitative","title":"Score"},"y2":{"field":"q3"},"stroke":{"field":"r","type":"nominal","title":"Risk","scale":{"domain":["low","high"],"range":["#4052B5","#E5483B"]},"legend":{"symbolType":"square","orient":"none","legendX":77,"legendY":-20}}}},
{"data":{"name":"Bbox"},"mark":{"type":"bar","fill":"transparent","strokeWidth":1.3},"encoding":{"xOffset":{"field":"r","type":"nominal","scale":{"domain":["low","high"],"paddingInner":0,"paddingOuter":0}},"y":{"field":"md","type":"quantitative","title":"Score"},"y2":{"field":"md"},"stroke":{"field":"r","type":"nominal","title":"Risk","scale":{"domain":["low","high"],"range":["#4052B5","#E5483B"]},"legend":{"symbolType":"square","orient":"none","legendX":77,"legendY":-20}}}},
{"data":{"name":"Bout"},"mark":{"type":"point","filled":true,"size":6,"opacity":1},"encoding":{"xOffset":{"field":"r","type":"nominal","scale":{"domain":["low","high"],"paddingInner":0,"paddingOuter":0}},"y":{"field":"v","type":"quantitative","title":"Score"},"fill":{"field":"r","type":"nominal","scale":{"domain":["low","high"],"range":["#4052B5","#E5483B"]},"legend":null}}},
{"data":{"name":"Bsig"},"mark":{"type":"text","fontSize":6.5,"baseline":"middle","color":"#333333"},"encoding":{"y":{"datum":0.955,"type":"quantitative","title":"Score"},"text":{"field":"s"}}}
]}]},
{"title":{"text":"C","anchor":"start","fontSize":11,"dy":10},"resolve":{"scale":{"stroke":"independent","color":"independent","xOffset":"independent"},"legend":{"stroke":"independent","color":"independent"}},
"vconcat":[{"width":219,"height":142,"title":{"text":"GSE57317"},
"encoding":{"x":{"field":"c","type":"nominal","scale":{"domain":["aDCs","B_cells","CD8+_T_cells","DCs","iDCs","Macrophages","Mast_cells","Neutrophils","NK_cells","pDCs","T_helper_cells","Tfh","Th1_cells","Th2_cells","TIL","Treg"],"paddingInner":0.25,"paddingOuter":0.225},"axis":{"title":null,"labelAngle":-52}}},
"layer":[
{"data":{"name":"Cbox"},"mark":{"type":"rule","strokeWidth":0.8,"opacity":0.6},"encoding":{"xOffset":{"field":"r","type":"nominal","scale":{"domain":["low","high"],"paddingInner":0,"paddingOuter":0}},"y":{"field":"lo","type":"quantitative","title":"Score","scale":{"domain":[-0.047,0.985],"nice":false,"zero":false},"axis":{"values":[0,0.25,0.5,0.75],"format":".2f"}},"y2":{"field":"hi"},"stroke":{"field":"r","type":"nominal","title":"Risk","scale":{"domain":["low","high"],"range":["#4052B5","#E5483B"]},"legend":{"symbolType":"square","orient":"none","legendX":76,"legendY":-20}}}},
{"data":{"name":"Cbox"},"mark":{"type":"bar","fill":"white","strokeWidth":0.9,"strokeOpacity":0.8},"encoding":{"xOffset":{"field":"r","type":"nominal","scale":{"domain":["low","high"],"paddingInner":0,"paddingOuter":0}},"y":{"field":"q1","type":"quantitative","title":"Score"},"y2":{"field":"q3"},"stroke":{"field":"r","type":"nominal","title":"Risk","scale":{"domain":["low","high"],"range":["#4052B5","#E5483B"]},"legend":{"symbolType":"square","orient":"none","legendX":76,"legendY":-20}}}},
{"data":{"name":"Cbox"},"mark":{"type":"bar","fill":"transparent","strokeWidth":1.3},"encoding":{"xOffset":{"field":"r","type":"nominal","scale":{"domain":["low","high"],"paddingInner":0,"paddingOuter":0}},"y":{"field":"md","type":"quantitative","title":"Score"},"y2":{"field":"md"},"stroke":{"field":"r","type":"nominal","title":"Risk","scale":{"domain":["low","high"],"range":["#4052B5","#E5483B"]},"legend":{"symbolType":"square","orient":"none","legendX":76,"legendY":-20}}}},
{"data":{"name":"Cout"},"mark":{"type":"point","filled":true,"size":6,"opacity":1},"encoding":{"xOffset":{"field":"r","type":"nominal","scale":{"domain":["low","high"],"paddingInner":0,"paddingOuter":0}},"y":{"field":"v","type":"quantitative","title":"Score"},"fill":{"field":"r","type":"nominal","scale":{"domain":["low","high"],"range":["#4052B5","#E5483B"]},"legend":null}}},
{"data":{"name":"Csig"},"mark":{"type":"text","fontSize":6.5,"baseline":"middle","color":"#333333"},"encoding":{"y":{"datum":0.955,"type":"quantitative","title":"Score"},"text":{"field":"s"}}}
]}]}
]},
{"spacing":18,"resolve":{"scale":{"stroke":"independent","color":"independent","xOffset":"independent"},"legend":{"stroke":"independent","color":"independent"}},
"hconcat":[
{"title":{"text":"D","anchor":"start","fontSize":11,"dy":10},"resolve":{"scale":{"stroke":"independent","color":"independent","xOffset":"independent"},"legend":{"stroke":"independent","color":"independent"}},
"vconcat":[{"width":221,"height":127,"title":{"text":"GSE136337"},
"encoding":{"x":{"field":"c","type":"nominal","scale":{"domain":["APC_co_inhibition","APC_co_stimulation","CCR","Check-point","Cytolytic_activity","HLA","Inflammation-promoting","Parainflammation","T_cell_co-inhibition","T_cell_co-stimulation","Type_I_IFN_Reponse","Type_II_IFN_Reponse"],"paddingInner":0.25,"paddingOuter":0.225},"axis":{"title":null,"labelAngle":-52}}},
"layer":[
{"data":{"name":"Dbox"},"mark":{"type":"rule","strokeWidth":0.8,"opacity":0.6},"encoding":{"xOffset":{"field":"r","type":"nominal","scale":{"domain":["low","high"],"paddingInner":0,"paddingOuter":0}},"y":{"field":"lo","type":"quantitative","title":"Score","scale":{"domain":[0.17,1.015],"nice":false,"zero":false},"axis":{"values":[0.2,0.4,0.6,0.8,1.0],"format":".1f","labelFontSize":6.5,"labelPadding":1,"titlePadding":2,"tickSize":2}},"y2":{"field":"hi"},"stroke":{"field":"r","type":"nominal","title":"Risk","scale":{"domain":["low","high"],"range":["#4052B5","#E5483B"]},"legend":{"symbolType":"square","orient":"none","legendX":77,"legendY":-20}}}},
{"data":{"name":"Dbox"},"mark":{"type":"bar","fill":"white","strokeWidth":0.9,"strokeOpacity":0.8},"encoding":{"xOffset":{"field":"r","type":"nominal","scale":{"domain":["low","high"],"paddingInner":0,"paddingOuter":0}},"y":{"field":"q1","type":"quantitative","title":"Score"},"y2":{"field":"q3"},"stroke":{"field":"r","type":"nominal","title":"Risk","scale":{"domain":["low","high"],"range":["#4052B5","#E5483B"]},"legend":{"symbolType":"square","orient":"none","legendX":77,"legendY":-20}}}},
{"data":{"name":"Dbox"},"mark":{"type":"bar","fill":"transparent","strokeWidth":1.3},"encoding":{"xOffset":{"field":"r","type":"nominal","scale":{"domain":["low","high"],"paddingInner":0,"paddingOuter":0}},"y":{"field":"md","type":"quantitative","title":"Score"},"y2":{"field":"md"},"stroke":{"field":"r","type":"nominal","title":"Risk","scale":{"domain":["low","high"],"range":["#4052B5","#E5483B"]},"legend":{"symbolType":"square","orient":"none","legendX":77,"legendY":-20}}}},
{"data":{"name":"Dout"},"mark":{"type":"point","filled":true,"size":6,"opacity":1},"encoding":{"xOffset":{"field":"r","type":"nominal","scale":{"domain":["low","high"],"paddingInner":0,"paddingOuter":0}},"y":{"field":"v","type":"quantitative","title":"Score"},"fill":{"field":"r","type":"nominal","scale":{"domain":["low","high"],"range":["#4052B5","#E5483B"]},"legend":null}}},
{"data":{"name":"Dsig"},"mark":{"type":"text","fontSize":6.5,"baseline":"middle","color":"#333333"},"encoding":{"y":{"datum":0.985,"type":"quantitative","title":"Score"},"text":{"field":"s"}}}
]}]},
{"title":{"text":"E","anchor":"start","fontSize":11,"dy":10},"resolve":{"scale":{"stroke":"independent","color":"independent","xOffset":"independent"},"legend":{"stroke":"independent","color":"independent"}},
"vconcat":[{"width":225,"height":123,"title":{"text":"GSE24080"},
"encoding":{"x":{"field":"c","type":"nominal","scale":{"domain":["APC_co_inhibition","APC_co_stimulation","CCR","Check-point","Cytolytic_activity","HLA","Inflammation-promoting","MHC_class_I","Parainflammation","T_cell_co-inhibition","T_cell_co-stimulation","Type_I_IFN_Reponse","Type_II_IFN_Reponse"],"paddingInner":0.25,"paddingOuter":0.225},"axis":{"title":null,"labelAngle":-52}}},
"layer":[
{"data":{"name":"Ebox"},"mark":{"type":"rule","strokeWidth":0.8,"opacity":0.6},"encoding":{"xOffset":{"field":"r","type":"nominal","scale":{"domain":["low","high"],"paddingInner":0,"paddingOuter":0}},"y":{"field":"lo","type":"quantitative","title":"Score","scale":{"domain":[0.215,1.035],"nice":false,"zero":false},"axis":{"values":[0.4,0.6,0.8,1.0],"format":".1f","labelFontSize":6.5,"labelPadding":1,"titlePadding":2,"tickSize":2}},"y2":{"field":"hi"},"stroke":{"field":"r","type":"nominal","title":"Risk","scale":{"domain":["low","high"],"range":["#4052B5","#E5483B"]},"legend":{"symbolType":"square","orient":"none","legendX":79,"legendY":-20}}}},
{"data":{"name":"Ebox"},"mark":{"type":"bar","fill":"white","strokeWidth":0.9,"strokeOpacity":0.8},"encoding":{"xOffset":{"field":"r","type":"nominal","scale":{"domain":["low","high"],"paddingInner":0,"paddingOuter":0}},"y":{"field":"q1","type":"quantitative","title":"Score"},"y2":{"field":"q3"},"stroke":{"field":"r","type":"nominal","title":"Risk","scale":{"domain":["low","high"],"range":["#4052B5","#E5483B"]},"legend":{"symbolType":"square","orient":"none","legendX":79,"legendY":-20}}}},
{"data":{"name":"Ebox"},"mark":{"type":"bar","fill":"transparent","strokeWidth":1.3},"encoding":{"xOffset":{"field":"r","type":"nominal","scale":{"domain":["low","high"],"paddingInner":0,"paddingOuter":0}},"y":{"field":"md","type":"quantitative","title":"Score"},"y2":{"field":"md"},"stroke":{"field":"r","type":"nominal","title":"Risk","scale":{"domain":["low","high"],"range":["#4052B5","#E5483B"]},"legend":{"symbolType":"square","orient":"none","legendX":79,"legendY":-20}}}},
{"data":{"name":"Eout"},"mark":{"type":"point","filled":true,"size":6,"opacity":1},"encoding":{"xOffset":{"field":"r","type":"nominal","scale":{"domain":["low","high"],"paddingInner":0,"paddingOuter":0}},"y":{"field":"v","type":"quantitative","title":"Score"},"fill":{"field":"r","type":"nominal","scale":{"domain":["low","high"],"range":["#4052B5","#E5483B"]},"legend":null}}},
{"data":{"name":"Esig"},"mark":{"type":"text","fontSize":6.5,"baseline":"middle","color":"#333333"},"encoding":{"y":{"datum":1.005,"type":"quantitative","title":"Score"},"text":{"field":"s"}}}
]}]},
{"title":{"text":"F","anchor":"start","fontSize":11,"dy":10},"resolve":{"scale":{"stroke":"independent","color":"independent","xOffset":"independent"},"legend":{"stroke":"independent","color":"independent"}},
"vconcat":[{"width":218,"height":123,"title":{"text":"GSE57317"},
"encoding":{"x":{"field":"c","type":"nominal","scale":{"domain":["APC_co_inhibition","APC_co_stimulation","CCR","Check-point","Cytolytic_activity","HLA","Inflammation-promoting","MHC_class_I","Parainflammation","T_cell_co-inhibition","T_cell_co-stimulation","Type_I_IFN_Reponse","Type_II_IFN_Reponse"],"paddingInner":0.25,"paddingOuter":0.225},"axis":{"title":null,"labelAngle":-52}}},
"layer":[
{"data":{"name":"Fbox"},"mark":{"type":"rule","strokeWidth":0.8,"opacity":0.6},"encoding":{"xOffset":{"field":"r","type":"nominal","scale":{"domain":["low","high"],"paddingInner":0,"paddingOuter":0}},"y":{"field":"lo","type":"quantitative","title":"Score","scale":{"domain":[0.215,1.035],"nice":false,"zero":false},"axis":{"values":[0.4,0.6,0.8,1.0],"format":".1f","labelFontSize":6.5,"labelPadding":1,"titlePadding":2,"tickSize":2}},"y2":{"field":"hi"},"stroke":{"field":"r","type":"nominal","title":"Risk","scale":{"domain":["low","high"],"range":["#4052B5","#E5483B"]},"legend":{"symbolType":"square","orient":"none","legendX":76,"legendY":-20}}}},
{"data":{"name":"Fbox"},"mark":{"type":"bar","fill":"white","strokeWidth":0.9,"strokeOpacity":0.8},"encoding":{"xOffset":{"field":"r","type":"nominal","scale":{"domain":["low","high"],"paddingInner":0,"paddingOuter":0}},"y":{"field":"q1","type":"quantitative","title":"Score"},"y2":{"field":"q3"},"stroke":{"field":"r","type":"nominal","title":"Risk","scale":{"domain":["low","high"],"range":["#4052B5","#E5483B"]},"legend":{"symbolType":"square","orient":"none","legendX":76,"legendY":-20}}}},
{"data":{"name":"Fbox"},"mark":{"type":"bar","fill":"transparent","strokeWidth":1.3},"encoding":{"xOffset":{"field":"r","type":"nominal","scale":{"domain":["low","high"],"paddingInner":0,"paddingOuter":0}},"y":{"field":"md","type":"quantitative","title":"Score"},"y2":{"field":"md"},"stroke":{"field":"r","type":"nominal","title":"Risk","scale":{"domain":["low","high"],"range":["#4052B5","#E5483B"]},"legend":{"symbolType":"square","orient":"none","legendX":76,"legendY":-20}}}},
{"data":{"name":"Fout"},"mark":{"type":"point","filled":true,"size":6,"opacity":1},"encoding":{"xOffset":{"field":"r","type":"nominal","scale":{"domain":["low","high"],"paddingInner":0,"paddingOuter":0}},"y":{"field":"v","type":"quantitative","title":"Score"},"fill":{"field":"r","type":"nominal","scale":{"domain":["low","high"],"range":["#4052B5","#E5483B"]},"legend":null}}},
{"data":{"name":"Fsig"},"mark":{"type":"text","fontSize":6.5,"baseline":"middle","color":"#333333"},"encoding":{"y":{"datum":1.005,"type":"quantitative","title":"Score"},"text":{"field":"s"}}}
]}]}
]}
],
"config":{
"font":"Liberation Sans",
"view":{"stroke":null},
"axis":{"grid":false,"domainColor":"#222222","tickColor":"#222222","labelColor":"#222222","titleColor":"#111111","domainWidth":0.9,"tickWidth":0.8,"tickSize":2.5,"labelFontSize":6,"titleFontSize":7,"titleFontWeight":"normal","labelPadding":2,"titlePadding":4,"labelFont":"Liberation Sans","titleFont":"Liberation Sans"},
"axisY":{"labelFontSize":7,"labelPadding":3,"titlePadding":6},
"title":{"font":"Liberation Sans","fontWeight":"normal","fontSize":11.5,"color":"#111111","offset":6},
"legend":{"direction":"horizontal","titleOrient":"left","titleFontSize":7,"titleFontWeight":"normal","titleColor":"#111111","labelFontSize":6,"labelColor":"#111111","symbolSize":45,"symbolFillColor":"white","symbolStrokeWidth":1,"columnPadding":6,"labelOffset":3,"titlePadding":5}
}
}
